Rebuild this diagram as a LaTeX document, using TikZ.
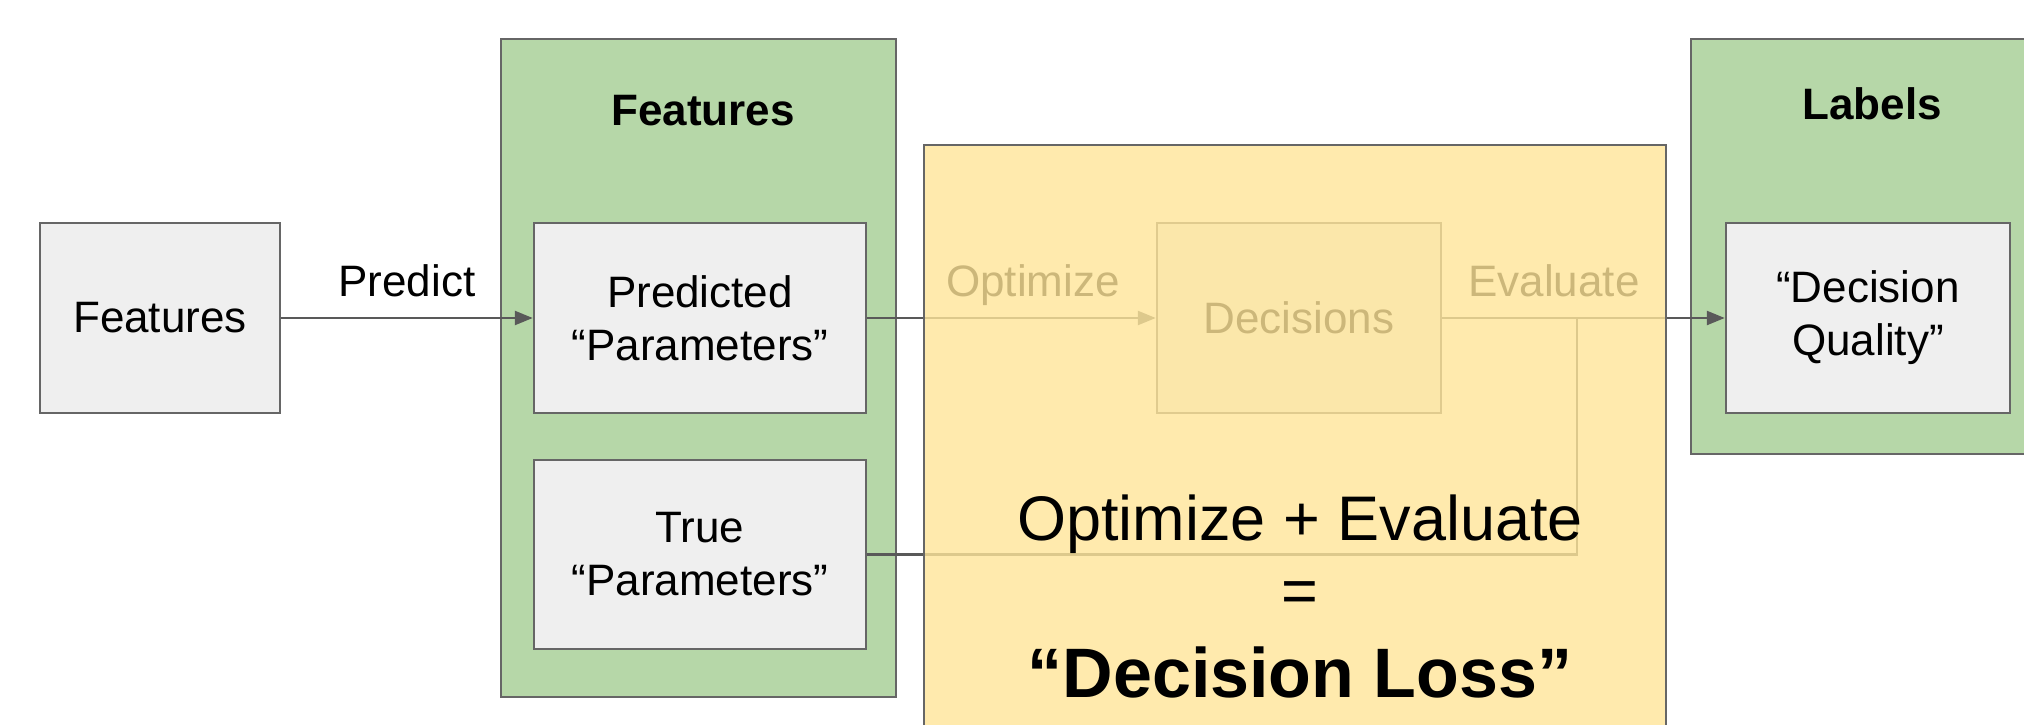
\documentclass[tikz,border=0pt]{standalone}
\usepackage{fontspec}
\setmainfont{Liberation Sans}
\usetikzlibrary{arrows.meta}
\definecolor{boxfill}{HTML}{EFEFEF}
\definecolor{boxline}{HTML}{666666}
\definecolor{connc}{HTML}{595959}
\definecolor{greenfill}{HTML}{B6D7A8}
\definecolor{yellowfill}{HTML}{FFE599}
\begin{document}
\begin{tikzpicture}[x=1pt,y=-1pt,
  box/.style={draw=boxline, line width=2.5pt, fill=boxfill, align=center, inner sep=0pt,
    font=\fontsize{44}{53}\selectfont},
  group/.style={draw=boxline, line width=2.5pt, fill=greenfill, inner sep=0pt},
  conn/.style={draw=connc, line width=2.5pt},
  arr/.style={conn, -{Triangle[length=18pt,width=14pt]}},
  lbl/.style={inner sep=0pt, anchor=base, font=\fontsize{44}{53}\selectfont},
  title/.style={inner sep=0pt, anchor=base, font=\fontsize{44}{53}\selectfont\bfseries},
  big/.style={inner sep=0pt, anchor=base, font=\fontsize{63}{75}\selectfont},
  bigb/.style={inner sep=0pt, anchor=base, font=\fontsize{70}{84}\selectfont\bfseries}]
\path[use as bounding box] (0,0) rectangle (2024,725);
\clip (0,0) rectangle (2024,725);

% containers
\node[group, minimum width=395pt, minimum height=658pt] (featgrp) at (698.5,368) {};
\node[group, minimum width=349pt, minimum height=415pt] (labgrp) at (1865.5,246.5) {};
\node[title] (feattitle) at (703,125) {Features};
\node[title] (labtitle) at (1872,119) {Labels};

% boxes
\node[box, minimum width=240pt, minimum height=190pt] (feat) at (160,318) {Features};
\node[box, minimum width=332pt, minimum height=190pt] (pred) at (700,318) {Predicted\\“Parameters”};
\node[box, minimum width=332pt, minimum height=189pt] (true) at (700,554.5) {True\\“Parameters”};
\node[box, minimum width=284pt, minimum height=190pt] (dec) at (1299,318) {Decisions};
\node[box, minimum width=284pt, minimum height=190pt] (dq) at (1868,318) {“Decision\\Quality”};

% connectors
\coordinate (join) at (1577,318);
\draw[arr] (feat.east) -- (pred.west);
\draw[arr] (pred.east) -- (dec.west);
\draw[arr] (dec.east) -- (dq.west);
\draw[conn] (true.east) -| (join);

% labels
\node[lbl] (predict) at (407,296) {Predict};
\node[lbl] (optim) at (1033,296) {Optimize};
\node[lbl] (evalu) at (1554,296) {Evaluate};

% yellow overlay
\draw[draw=boxline, line width=2.5pt, fill=yellowfill, fill opacity=0.8] (924,145) rectangle (1666,760);

% big text
\node[big] (opteval) at (1300,540) {Optimize + Evaluate};
\node[big] (eq) at (1300,612) {=};
\node[bigb] (loss) at (1300,697) {“Decision Loss”};
\end{tikzpicture}
\end{document}
